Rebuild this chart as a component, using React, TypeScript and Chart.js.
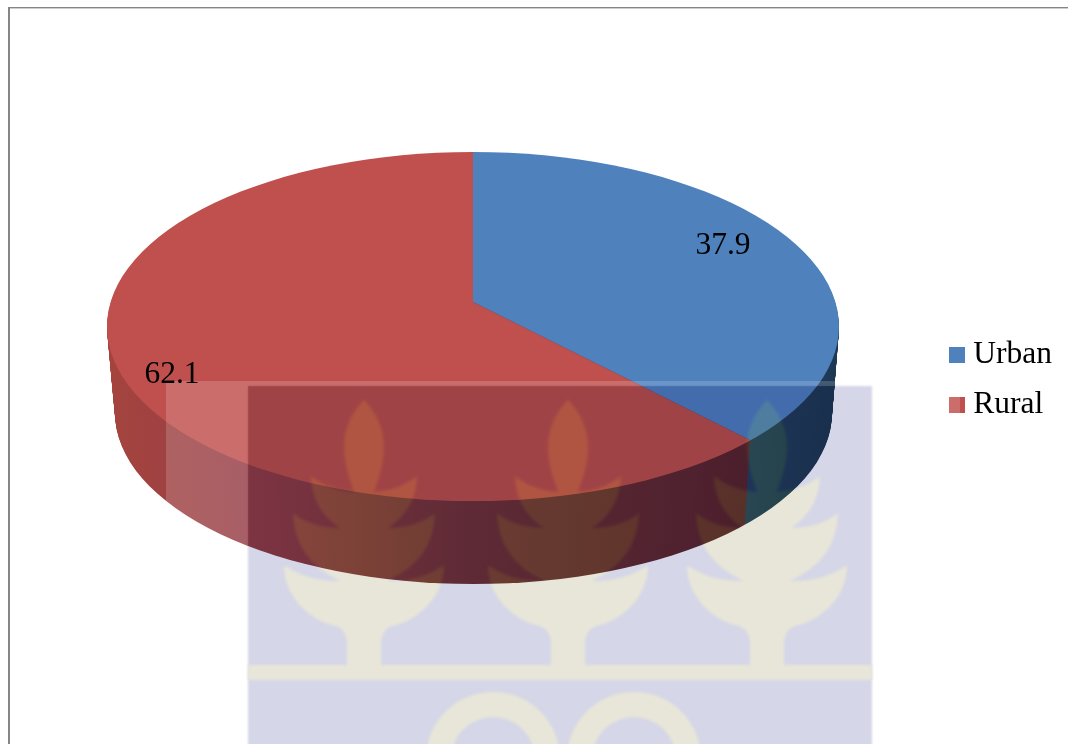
import React, { useEffect, useRef } from "react";
import { Chart, registerables } from "chart.js";

Chart.register(...registerables);

const categories = ["Urban", "Rural"];
const shares = [37.9, 62.1];
const sliceColors = ["#4F81BD", "#C0504D"];
const shareLabelCentres = [
  [723, 246],
  [172, 375],
];

const FONT = '31.5px "Liberation Serif"';
const RIM = { cx: 473, cy: 326.5, rx: 366, ry: 174.5 };
const BASE = { cx: 473.5, cy: 413, rx: 358.5, ry: 171 };
const APEX = { x: 473, y: 302 };
const TILT = 0.4745;
const WALL_DEPTH = 87;

const emblemCentres = [364, 568, 767];
const WM = { x: 248, y: 386, w: 624, h: 380 };

function withTop(ctx: CanvasRenderingContext2D, arc: any, t: number) {
  const rx = RIM.rx + (BASE.rx - RIM.rx) * t;
  const ry = RIM.ry + (BASE.ry - RIM.ry) * t;
  const cx = RIM.cx + (BASE.cx - RIM.cx) * t;
  const cy = RIM.cy + (BASE.cy - RIM.cy) * t;
  ctx.beginPath();
  ctx.ellipse(cx, cy, rx, ry, 0, 0, Math.PI * 2);
  ctx.clip();
  ctx.translate(APEX.x, APEX.y + t * (BASE.cy - RIM.cy));
  ctx.scale(rx / RIM.rx, (TILT * rx) / RIM.rx);
  ctx.translate(-arc.x, -arc.y);
}

function gradient(ctx: CanvasRenderingContext2D, stops: [number, string][]) {
  const g = ctx.createLinearGradient(100, 0, 840, 0);
  stops.forEach(([p, c]) => g.addColorStop(p, c));
  return g;
}

function emblemHalf(c: number, s: number) {
  const X = (d: number) => c + s * d;
  const p = new Path2D();
  p.moveTo(c, 400);
  p.bezierCurveTo(X(13), 413, X(20), 430, X(20), 447);
  p.bezierCurveTo(X(20), 464, X(14), 480, X(10), 492);
  p.quadraticCurveTo(X(36), 490, X(53), 476);
  p.quadraticCurveTo(X(52), 510, X(24), 528);
  p.quadraticCurveTo(X(52), 528, X(71), 513);
  p.quadraticCurveTo(X(70), 560, X(23), 581);
  p.quadraticCurveTo(X(56), 582, X(80), 565);
  p.bezierCurveTo(X(80), 600, X(50), 622, X(28), 626);
  p.quadraticCurveTo(X(17), 630, X(17), 645);
  p.lineTo(X(17), 666);
  p.lineTo(c - s, 666);
  p.lineTo(c - s, 400);
  p.closePath();
  return p;
}

function crestLayer(width: number, height: number, color: string) {
  const layer = document.createElement("canvas");
  layer.width = width;
  layer.height = height;
  const g = layer.getContext("2d")!;
  g.fillStyle = color;
  emblemCentres.forEach((c) => {
    g.fill(emblemHalf(c, 1));
    g.fill(emblemHalf(c, -1));
  });
  g.fillRect(WM.x, 665, WM.w, 15);
  [493, 634].forEach((c) => {
    const ring = new Path2D();
    ring.arc(c, 759, 67, 0, Math.PI * 2);
    ring.arc(c, 759, 42, 0, Math.PI * 2, true);
    g.fill(ring);
  });
  return layer;
}

const pie3d = {
  id: "pie3d",
  beforeDraw(chart: any) {
    const { ctx } = chart;
    ctx.save();
    ctx.fillStyle = "#ffffff";
    ctx.fillRect(0, 0, chart.width, chart.height);
    ctx.fillStyle = "#868686";
    ctx.fillRect(8, 7, 2, chart.height);
    ctx.fillRect(8, 7, chart.width, 1.4);
    ctx.restore();
  },
  beforeDatasetsDraw(chart: any) {
    const { ctx } = chart;
    const arcs = chart.getDatasetMeta(0).data;
    const fills = [
      gradient(ctx, [
        [0.85, "#263f63"],
        [1, "#1d3853"],
      ]),
      gradient(ctx, [
        [0, "#a5443e"],
        [0.2, "#963e48"],
        [0.5, "#70323a"],
        [0.88, "#5a2430"],
      ]),
    ];
    for (let d = WALL_DEPTH; d > 0; d--) {
      arcs.forEach((arc: any, i: number) => {
        ctx.save();
        withTop(ctx, arc, d / WALL_DEPTH);
        const own = arc.options;
        arc.options = { ...own, backgroundColor: fills[i] };
        arc.draw(ctx);
        arc.options = own;
        ctx.restore();
      });
    }
  },
  beforeDatasetDraw(chart: any) {
    const { ctx } = chart;
    ctx.save();
    withTop(ctx, chart.getDatasetMeta(0).data[0], 0);
  },
  afterDatasetDraw(chart: any) {
    chart.ctx.restore();
  },
  afterDatasetsDraw(chart: any) {
    const { ctx } = chart;
    const W = chart.width;
    const H = chart.height + 30;
    ctx.save();
    // pale haze around the crest's page
    ctx.filter = "blur(0.6px)";
    ctx.fillStyle = "rgba(255,255,255,0.17)";
    ctx.fillRect(166, 381, 82, 380);
    ctx.fillRect(248, 381, 712, 5);
    ctx.fillRect(872, 386, 88, 380);
    // crest sheet, laid over the pie
    const sheet = document.createElement("canvas");
    sheet.width = W;
    sheet.height = H;
    const s = sheet.getContext("2d")!;
    s.fillStyle = "#ffffff";
    s.fillRect(0, 0, W, H);
    s.filter = "blur(0.8px)";
    s.fillStyle = "#d5d6e8";
    s.fillRect(WM.x, WM.y, WM.w, WM.h);
    s.filter = "blur(1.6px)";
    s.drawImage(crestLayer(W, H, "#e0d4d8"), 0, 0);
    ctx.filter = "none";
    ctx.globalCompositeOperation = "multiply";
    ctx.drawImage(sheet, 0, 0);
    // warm lift of the crest's pale shapes
    ctx.filter = "blur(1.6px)";
    ctx.globalCompositeOperation = "lighter";
    ctx.drawImage(crestLayer(W, H, "rgb(8,18,0)"), 0, 0);
    ctx.restore();
  },
  afterDraw(chart: any) {
    const { ctx } = chart;
    ctx.save();
    ctx.font = FONT;
    ctx.fillStyle = "#000000";
    ctx.textAlign = "center";
    ctx.textBaseline = "middle";
    shares.forEach((v, i) => {
      ctx.fillText(v.toFixed(1), shareLabelCentres[i][0], shareLabelCentres[i][1]);
    });
    ctx.restore();
  },
};

export default function App() {
  const ref = useRef<HTMLCanvasElement>(null);
  useEffect(() => {
    document.body.style.margin = "0";
    document.body.style.overflow = "hidden";
    const swatches = sliceColors.map((c) => {
      const sw = document.createElement("canvas");
      sw.width = 16;
      sw.height = 16;
      const g = sw.getContext("2d")!;
      g.fillStyle = c;
      g.fillRect(0, 0, 16, 16);
      return sw;
    });
    const chart = new Chart(ref.current!, {
      type: "pie",
      data: {
        labels: categories,
        datasets: [
          {
            data: shares,
            backgroundColor: sliceColors,
            borderWidth: 0,
            clip: false,
          } as any,
        ],
      },
      options: {
        responsive: false,
        animation: false,
        events: [],
        radius: 760,
        layout: { padding: { right: 18, top: 16 } },
        plugins: {
          tooltip: { enabled: false },
          legend: {
            position: "right",
            labels: {
              usePointStyle: true,
              pointStyleWidth: 0.6,
              padding: 18.5,
              color: "#000000",
              font: { family: '"Liberation Serif"', size: 31.5 },
              generateLabels: (c: any) =>
                (Chart as any).overrides.doughnut.plugins.legend.labels
                  .generateLabels(c)
                  .map((item: any, i: number) => ({ ...item, pointStyle: swatches[i] })),
            },
          },
        },
      } as any,
      plugins: [pie3d],
    });
    return () => chart.destroy();
  }, []);
  return (
    <div style={{ position: "fixed", left: 0, top: 0, width: 1068, height: 744, overflow: "hidden" }}>
      <canvas ref={ref} width={1080} height={744} style={{ display: "block" }} />
    </div>
  );
}
